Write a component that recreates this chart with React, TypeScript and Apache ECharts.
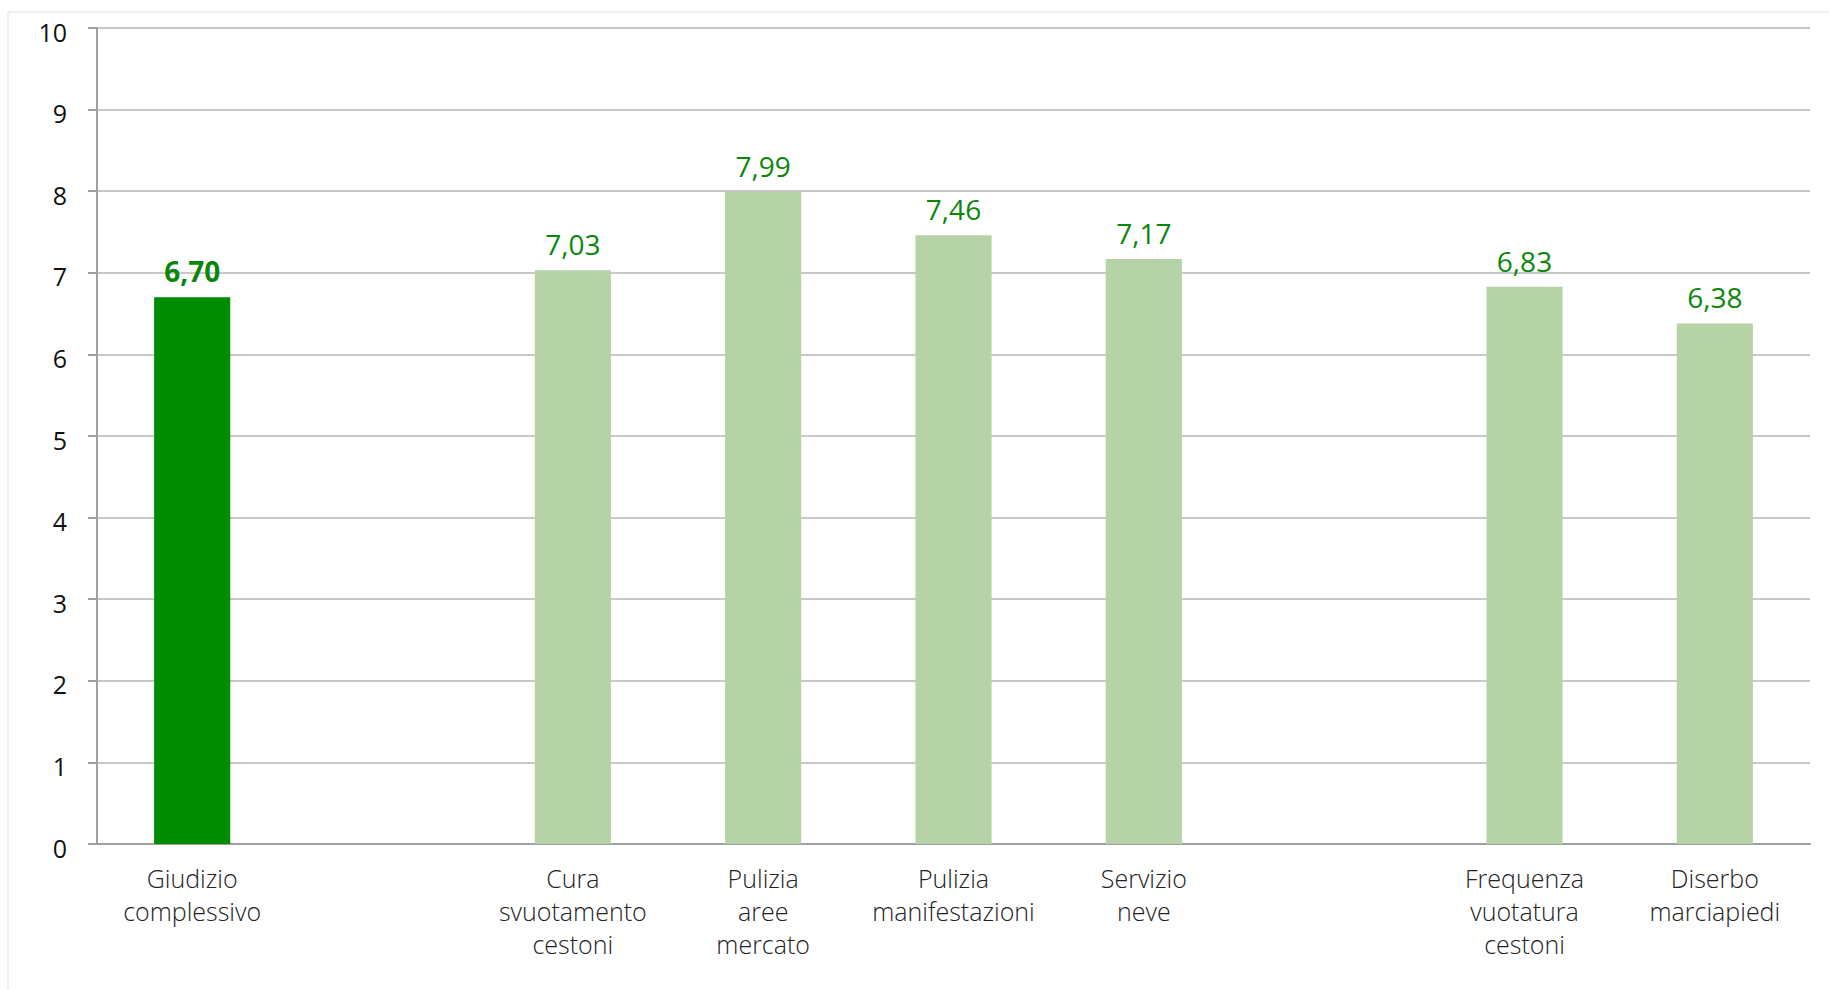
import React, { useEffect, useRef } from "react";
import * as echarts from "echarts";

const categories = [
  "Giudizio\ncomplessivo",
  "",
  "Cura\nsvuotamento\ncestoni",
  "Pulizia\naree\nmercato",
  "Pulizia\nmanifestazioni",
  "Servizio\nneve",
  "",
  "Frequenza\nvuotatura\ncestoni",
  "Diserbo\nmarciapiedi",
];
const values: (number | null)[] = [6.7, null, 7.03, 7.99, 7.46, 7.17, null, 6.83, 6.38];
const highlighted = [true, false, false, false, false, false, false, false, false];
const yTicks = [0, 10, 1];

export default function App() {
  const ref = useRef<HTMLDivElement>(null);
  useEffect(() => {
    const chart = echarts.init(ref.current!, null, { renderer: "svg" });
    const data = values.map((v, i) =>
      v === null
        ? "-"
        : {
            value: v,
            itemStyle: { color: highlighted[i] ? "#008c00" : "#b5d3a7" },
            label: { fontWeight: highlighted[i] ? "bold" : "normal" },
          }
    );
    chart.setOption({
      animation: false,
      backgroundColor: "#ffffff",
      graphic: [
        {
          type: "rect",
          shape: { x: 8, y: 12, width: 1830, height: 990 },
          style: { fill: "none", stroke: "#f0f0f0", lineWidth: 2 },
          silent: true,
        },
      ],
      grid: { left: 97, right: 19, top: 28, bottom: 146 },
      xAxis: {
        type: "category",
        data: categories,
        axisLine: { lineStyle: { color: "#a0a0a0", width: 2 } },
        axisTick: { show: false },
        axisLabel: {
          interval: 0,
          margin: 17,
          fontFamily: "Open Sans",
          fontWeight: 300,
          fontSize: 25,
          lineHeight: 33,
          color: "#222",
        },
      },
      yAxis: {
        type: "value",
        min: yTicks[0],
        max: yTicks[1],
        interval: yTicks[2],
        axisLine: { show: true, lineStyle: { color: "#a0a0a0", width: 2 } },
        axisTick: { show: true, length: 9, lineStyle: { color: "#a0a0a0", width: 2 } },
        splitLine: { lineStyle: { color: "#c8c8c8", width: 2 } },
        axisLabel: {
          margin: 30,
          formatter: "{v|{value}}",
          rich: {
            v: {
              fontFamily: "Open Sans",
              fontSize: 25,
              color: "#111",
              padding: [7, 0, 0, 0],
            },
          },
        },
      },
      series: [
        {
          type: "bar",
          data,
          barWidth: "40%",
          label: {
            show: true,
            position: "top",
            distance: 12,
            fontFamily: "Open Sans",
            fontSize: 28,
            color: "#0a870a",
            formatter: (p: any) => Number(p.value).toFixed(2).replace(".", ","),
          },
        },
      ],
    });
    return () => chart.dispose();
  }, []);
  return (
    <div
      ref={ref}
      style={{ position: "absolute", left: 0, top: 0, width: 1829, height: 990 }}
    />
  );
}
